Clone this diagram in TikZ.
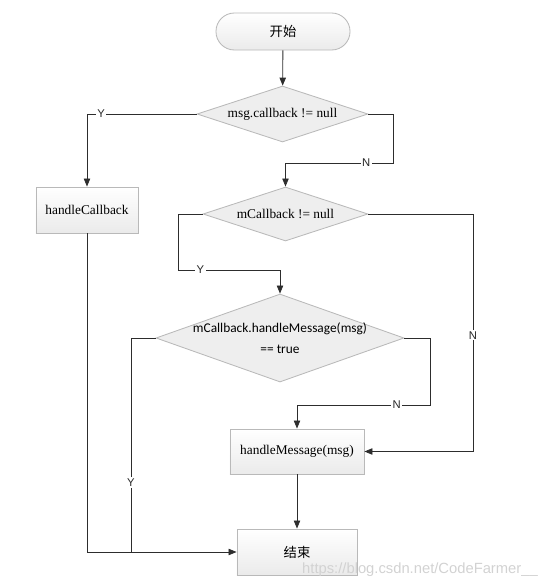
\documentclass[tikz,border=0pt]{standalone}
\usepackage{fontspec}
\setmainfont{Liberation Serif}
\newfontfamily\cjk{Noto Sans CJK SC}
\newfontfamily\calibf{Carlito}
\newfontfamily\arialf{Liberation Sans}
\usetikzlibrary{arrows.meta,shapes.geometric}

\begin{document}
\begin{tikzpicture}[x=0.025cm,y=-0.025cm,line width=0.6pt,>={Triangle[length=2mm,width=1.6mm]},
  flow/.style={draw=gray!35!black,->},
  link/.style={draw=gray!35!black},
  startbox/.style={draw=gray!55,rounded corners=0.46cm,top color=white,bottom color=gray!16,
    minimum width=3.35cm,minimum height=0.925cm,font=\cjk\fontsize{9.5}{11}\selectfont},
  procbox/.style={draw=gray!55,top color=white,bottom color=gray!16,minimum height=1.15cm,
    font=\fontsize{9.5}{11}\selectfont},
  decision/.style={diamond,draw=gray!55,fill=gray!13,inner sep=0pt,aspect=3.1,
    font=\fontsize{9.5}{11}\selectfont},
  lbl/.style={fill=white,inner sep=1pt,text=gray!30!black,font=\arialf\fontsize{8}{9}\selectfont}]
  \useasboundingbox (0,0) rectangle (556,588);
  % nodos
  \node[startbox] (start) at (283,31.5) {开始};
  \node[decision,minimum width=4.275cm,minimum height=1.4cm] (msgcb) at (282.5,114) {msg.callback != null};
  \node[procbox,minimum width=2.55cm] (hcb) at (87,210) {handleCallback};
  \node[decision,minimum width=4.125cm,minimum height=1.35cm] (mcb) at (285.5,214) {mCallback != null};
  \node[decision,minimum width=6.2cm,minimum height=2.2cm,inner sep=-4pt,align=center,
    font=\calibf\fontsize{9.5}{15}\selectfont] (hmtrue) at (280,338) {mCallback.handleMessage(msg)\\== true};
  \node[procbox,minimum width=3.35cm,minimum height=1.125cm] (hmsg) at (297,451.5) {handleMessage(msg)};
  \node[procbox,minimum width=3.0cm,font=\cjk\fontsize{9.5}{11}\selectfont] (fin) at (297,552) {结束};
  % esquinas
  \coordinate (n1) at (393,163); \coordinate (y2) at (178,270); \coordinate (n2) at (473,214);
  \coordinate (n3) at (430,405); \coordinate (y3) at (131,552);
  % conectores
  \draw[flow] (start) -- (msgcb);
  \draw[flow] (msgcb.west) -| node[lbl,pos=0.435]{Y} (hcb);
  \draw[flow] (msgcb.east) -| (n1) -| node[lbl,pos=0.125]{N} (mcb);
  \draw[flow] (mcb.west) -| (y2) -| node[lbl,pos=0.11]{Y} (hmtrue);
  \draw[flow] (mcb.east) -- (n2) |- node[lbl,pos=0.255]{N} (hmsg.east);
  \draw[flow] (hmtrue.east) -| (n3) -| node[lbl,pos=0.125]{N} (hmsg);
  \draw[link] (hmtrue.west) -| node[lbl,pos=0.837]{Y} (y3);
  \draw[flow] (hcb) |- (fin);
  \draw[flow] (hmsg) -- (fin);
  \node[text=gray!35,font=\arialf\fontsize{10.5}{12}\selectfont] (wm) at (420,570) {https://blog.csdn.net/CodeFarmer\_\_};
\end{tikzpicture}
\end{document}
